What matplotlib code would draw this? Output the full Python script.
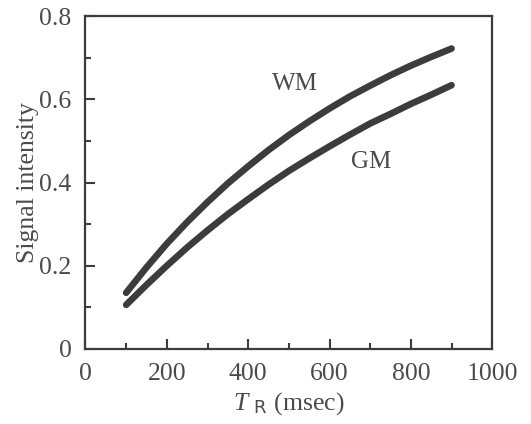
import numpy as np
import matplotlib
matplotlib.use("Agg")
import matplotlib.pyplot as plt
from matplotlib.ticker import MultipleLocator

# repetition time (msec)
tr = [100, 150, 200, 250, 300, 350, 400, 450, 500, 550, 600, 650, 700, 750, 800, 850, 900]
# signal intensity, white matter
wm = [0.135, 0.196, 0.253, 0.305, 0.353, 0.398, 0.439, 0.478, 0.514, 0.547, 0.578,
      0.607, 0.633, 0.658, 0.681, 0.702, 0.722]
# signal intensity, gray matter
gm = [0.106, 0.154, 0.200, 0.244, 0.285, 0.324, 0.360, 0.395, 0.428, 0.458, 0.487,
      0.515, 0.542, 0.565, 0.589, 0.611, 0.634]

plt.rcParams["font.family"] = ["Liberation Serif", "DejaVu Serif"]
plt.rcParams["mathtext.fontset"] = "custom"
plt.rcParams["mathtext.it"] = "Liberation Serif:italic"
plt.rcParams["mathtext.rm"] = "Liberation Serif"

line_col = "#3c3c3c"
txt_col = "#4a4a4a"

fig = plt.figure(figsize=(5.31, 4.24), dpi=100)
ax = fig.add_axes([0.161, 0.177, 0.766, 0.785])

ax.plot(tr, wm, color=line_col, lw=4.8, solid_capstyle="round")
ax.plot(tr, gm, color=line_col, lw=4.8, solid_capstyle="round")

ax.text(514, 0.636, "WM", fontsize=18, color=txt_col, ha="center", va="center")
ax.text(703, 0.45, "GM", fontsize=18, color=txt_col, ha="center", va="center")

ax.set_xlim(0, 1000)
ax.set_ylim(0, 0.8)
ax.xaxis.set_major_locator(MultipleLocator(200))
ax.xaxis.set_minor_locator(MultipleLocator(100))
ax.yaxis.set_major_locator(MultipleLocator(0.2))
ax.yaxis.set_minor_locator(MultipleLocator(0.1))
ax.set_yticks([0, 0.2, 0.4, 0.6, 0.8])
ax.set_yticklabels(["0", "0.2", "0.4", "0.6", "0.8"])

ax.tick_params(which="both", direction="in", colors=line_col, labelcolor=txt_col,
               top=False, right=False, width=1.5, labelsize=18.5)
ax.tick_params(which="major", length=7, pad=10)
ax.tick_params(which="minor", length=4)

for s in ax.spines.values():
    s.set_linewidth(1.6)
    s.set_color(line_col)

ax.set_xlabel(r"$T$ $_{\mathsf{R}}$ (msec)", fontsize=18.5, color=txt_col, labelpad=4)
ax.set_ylabel("Signal intensity", fontsize=18.5, color=txt_col, labelpad=0)

fig.savefig("out.png", dpi=100)
